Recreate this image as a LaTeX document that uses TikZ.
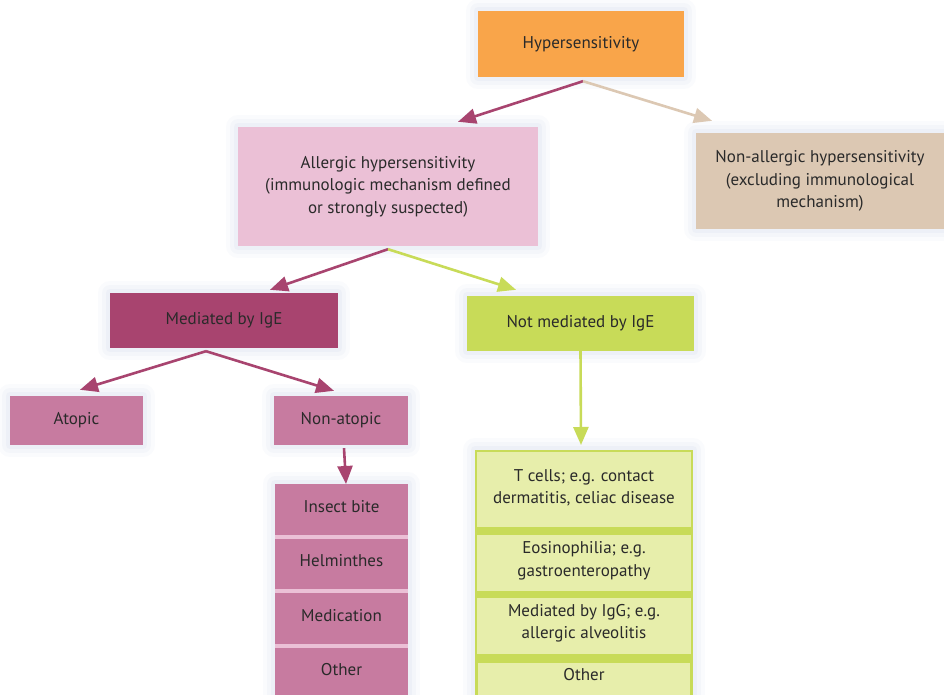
\documentclass[tikz,border=0pt]{standalone}
\usepackage{fontspec}
\setmainfont{PT Sans}
\usetikzlibrary{arrows.meta,calc}
\definecolor{orangeb}{HTML}{F9A54A}
\definecolor{pinkb}{HTML}{EBC0D6}
\definecolor{tanb}{HTML}{DCC8B3}
\definecolor{magb}{HTML}{A8446F}
\definecolor{limeb}{HTML}{C8DB58}
\definecolor{mauveb}{HTML}{C77BA0}
\definecolor{lightlime}{HTML}{E7EEAB}
\definecolor{txt}{HTML}{2A2A2A}
\definecolor{glowc}{HTML}{9FB4D8}
\begin{document}
\begin{tikzpicture}[x=1pt,y=-1pt,
  font=\fontsize{17}{22.5}\selectfont,
  box/.style={rectangle, draw=none, align=center, inner sep=0pt, text=txt,
    preaction={draw=glowc, draw opacity=0.05, line width=24pt, line join=round},
    preaction={draw=glowc, draw opacity=0.06, line width=16pt, line join=round},
    preaction={draw=glowc, draw opacity=0.08, line width=8pt, line join=round}},
  lbl/.style={align=center, inner sep=0pt, text=txt},
  arr/.style={line width=2.6pt, -{Triangle[length=18pt,width=15pt]}},
]
\useasboundingbox[fill=white] (0,0) rectangle (944,695);

% main boxes
\node[box, fill=orangeb, minimum width=206pt, minimum height=66pt] (hyp) at (581,44) {Hypersensitivity};
\node[box, fill=pinkb, minimum width=300pt, minimum height=119pt] (all) at (388,186.5)
  {Allergic hypersensitivity\\(immunologic mechanism defined\\or strongly suspected)};
\node[box, fill=tanb, minimum width=248pt, minimum height=96pt] (nonall) at (820,181)
  {Non-allergic hypersensitivity\\(excluding immunological\\mechanism)};
\node[box, fill=magb, minimum width=228pt, minimum height=55pt] (med) at (224,320.5) {Mediated by IgE};
\node[box, fill=limeb, minimum width=227pt, minimum height=55pt] (notmed) at (580.5,323.5) {Not mediated by IgE};
\node[box, fill=mauveb, minimum width=133pt, minimum height=49pt] (atopic) at (76.5,420.5) {Atopic};
\node[box, fill=mauveb, minimum width=134pt, minimum height=49pt] (nonat) at (341,420.5) {Non-atopic};

% pink stack
\node[box, fill=mauveb, minimum width=133pt, minimum height=216pt, anchor=north] (pstack) at (341.5,484) {};
\fill[pinkb] (275,535) rectangle (408,539);
\fill[pinkb] (275,589) rectangle (408,593);
\fill[pinkb] (275,644) rectangle (408,648);
\node[lbl] (p1) at (341.5,507) {Insect bite};
\node[lbl] (p2) at (341.5,561) {Helminthes};
\node[lbl] (p3) at (341.5,616) {Medication};
\node[lbl] (p4) at (341.5,670) {Other};

% lime stack
\node[box, fill=limeb, minimum width=218pt, minimum height=250pt, anchor=north] (lstack) at (584,450) {};
\fill[lightlime] (477,452) rectangle (691,527);
\fill[lightlime] (477,535) rectangle (691,591);
\fill[lightlime] (477,598) rectangle (691,654);
\fill[lightlime] (478,663) rectangle (690,700);
\node[lbl] (l1) at (584,488) {T cells; e.g. contact\\dermatitis, celiac disease};
\node[lbl] (l2) at (584,561) {Eosinophilia; e.g.\\gastroenteropathy};
\node[lbl] (l3) at (584,623) {Mediated by IgG; e.g.\\allergic alveolitis};
\node[lbl] (l4) at (584,675) {Other};

% connectors
\draw[arr, magb] ($(hyp.south)+(2,4)$) -- ($(all.north)+(70,-5)$);
\draw[arr, tanb] ($(hyp.south)+(2,4)$) -- ($(nonall.north)+(-108,-12)$);
\draw[arr, magb] ($(all.south)+(0,3)$) -- ($(med.north)+(46,-3)$);
\draw[arr, limeb] ($(all.south)+(0,3)$) -- ($(notmed.north)+(-64.5,-6)$);
\draw[arr, magb] ($(med.south)+(-18,3)$) -- ($(atopic.north)+(3.5,-6)$);
\draw[arr, magb] ($(med.south)+(-18,3)$) -- ($(nonat.north)+(-7,-5)$);
\draw[arr, magb] ($(nonat.south)+(3,3)$) -- ($(pstack.north)+(4.5,0)$);
\draw[arr, limeb] (notmed.south) -- ($(lstack.north)+(-3,-5)$);
\end{tikzpicture}
\end{document}
